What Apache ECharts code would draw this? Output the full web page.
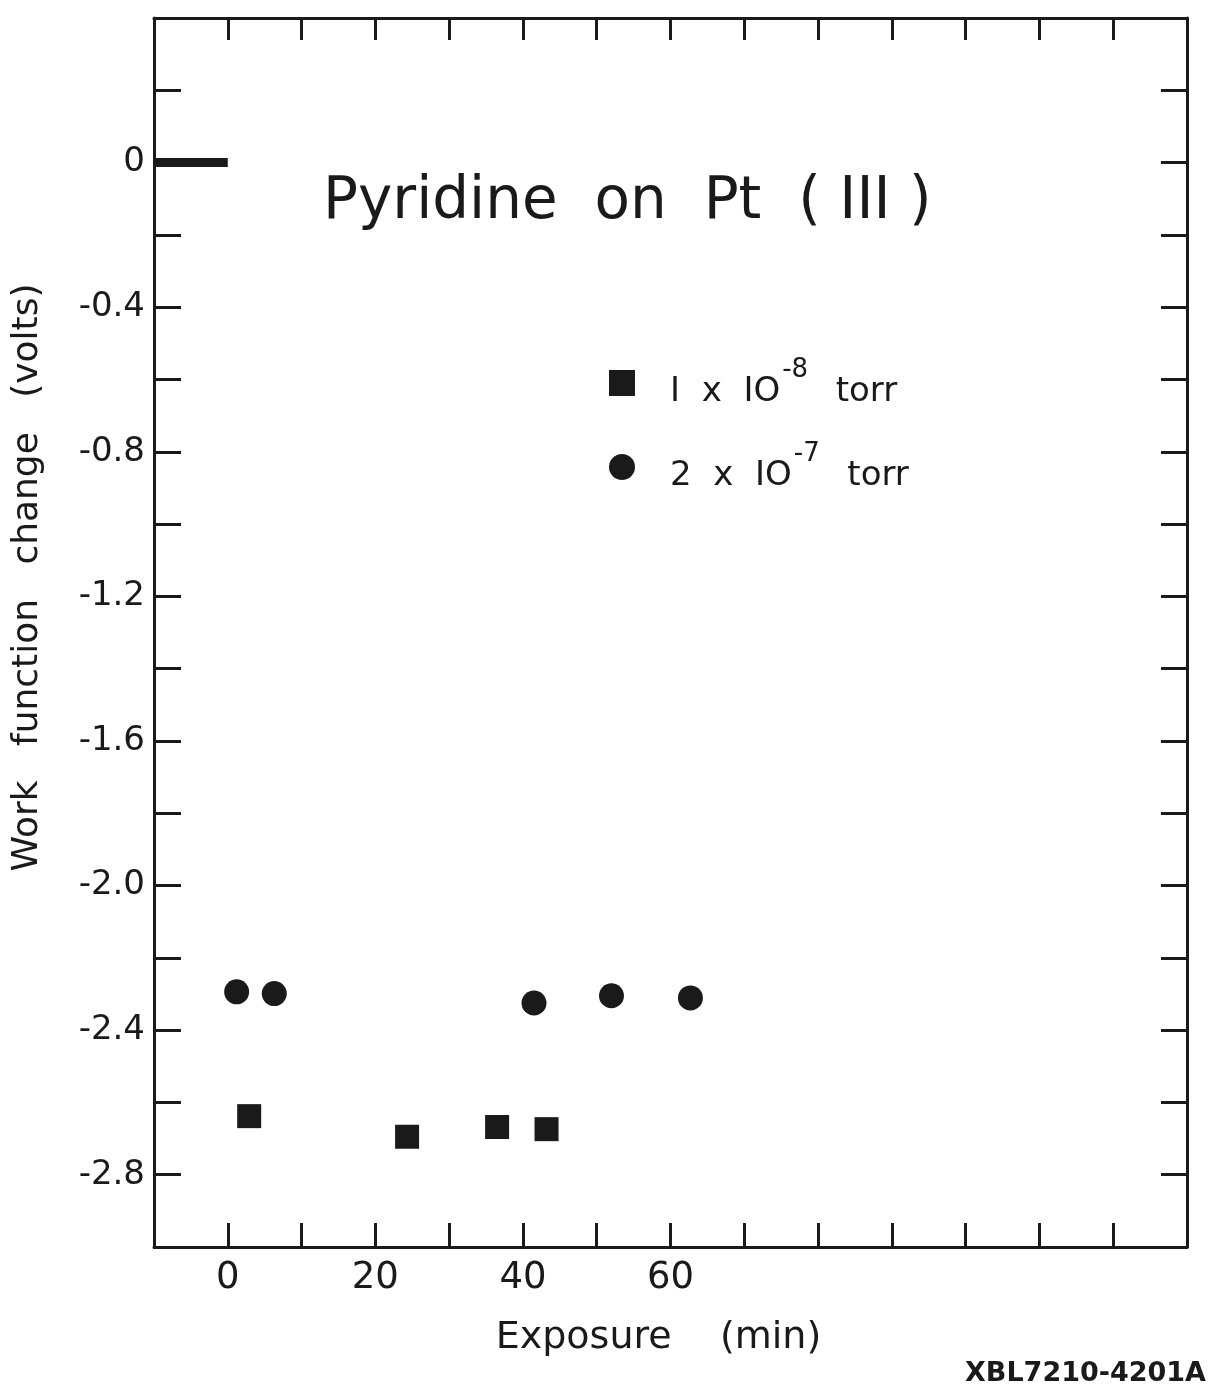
<!DOCTYPE html>
<html>
<head>
    <meta charset="utf-8">
    <script src="https://cdn.jsdelivr.net/npm/echarts@6/dist/echarts.min.js"></script>
    <style>
        html, body, #chart {
            width: 100%;
            height: 100%;
            margin: 0px;
            background: #fff;
        }
    </style>
</head>
<body>
    <div id="chart"></div>
    <script>
        // exposure (min) and work function change (volts)
        var lowX = [2.9, 24.3, 36.5, 43.2];
        var lowY = [-2.638, -2.695, -2.668, -2.674];
        var highX = [1.2, 6.3, 41.5, 52.0, 62.7];
        var highY = [-2.294, -2.299, -2.325, -2.305, -2.311];
        // clean surface reference bar
        var zeroX = [-10, 0];
        var zeroY = [0, 0];
        var xLabels = [0, 20, 40, 60];
        var yLabels = [0, -0.4, -0.8, -1.2, -1.6, -2.0, -2.4, -2.8];
        var names = ['low', 'high'];

        var ink = '#1a1a1a';
        var font = 'DejaVu Sans';

        function pairs(xs, ys) {
            return xs.map(function (x, i) { return [x, ys[i]]; });
        }

        var myChart = echarts.init(document.getElementById('chart'));
        var axisLine = { show: true, onZero: false, lineStyle: { color: ink, width: 3 } };

        var option = {
            backgroundColor: '#fff',
            animation: false,
            title: [{
                text: 'Pyridine  on  Pt  ( III )',
                left: 318,
                top: 169,
                textStyle: { fontFamily: font, fontSize: 58, fontWeight: 'normal', color: ink }
            }, {
                text: 'XBL7210-4201A',
                right: 8,
                top: 1355,
                textStyle: { fontFamily: font, fontSize: 27, fontWeight: 'bold', color: ink }
            }],
            legend: {
                orient: 'vertical',
                left: 604,
                top: 352,
                itemWidth: 26,
                itemHeight: 26,
                itemGap: 32,
                data: [{ name: 'low', icon: 'rect' }, { name: 'high', icon: 'circle' }],
                formatter: function (name) {
                    if (name === 'low') {
                        return '{p|I  x  IO}{s|-8}{a|  torr}';
                    }
                    return '{p|2  x  IO}{s|-7}{a|  torr}';
                },
                textStyle: {
                    color: ink,
                    rich: {
                        p: { fontFamily: font, fontSize: 34, lineHeight: 52, verticalAlign: 'bottom', color: ink, padding: [0, 0, 0, 30] },
                        a: { fontFamily: font, fontSize: 34, lineHeight: 52, verticalAlign: 'bottom', color: ink, padding: [0, 0, 0, 6] },
                        s: { fontFamily: font, fontSize: 26, lineHeight: 26, verticalAlign: 'top', color: ink, padding: [0, 0, 0, 2] }
                    }
                }
            },
            grid: { left: 154, right: 32, top: 18, bottom: 139 },
            xAxis: [{
                type: 'value',
                min: -10,
                max: 130,
                interval: 10,
                position: 'bottom',
                name: 'Exposure    (min)',
                nameLocation: 'middle',
                nameGap: 72,
                nameTextStyle: { fontFamily: font, fontSize: 38, color: ink, padding: [0, 24, 0, 0] },
                axisLine: axisLine,
                axisTick: { inside: true, length: 24, lineStyle: { color: ink, width: 3 } },
                axisLabel: {
                    margin: 13,
                    fontFamily: font,
                    fontSize: 37,
                    color: ink,
                    formatter: function (v) { return xLabels.indexOf(v) >= 0 ? String(v) : ''; }
                },
                splitLine: { show: false }
            }, {
                type: 'value',
                min: -10,
                max: 130,
                interval: 10,
                position: 'top',
                axisLine: axisLine,
                axisTick: { inside: true, length: 22, lineStyle: { color: ink, width: 3 } },
                axisLabel: { show: false },
                splitLine: { show: false }
            }],
            yAxis: [{
                type: 'value',
                min: -3,
                max: 0.4,
                interval: 0.2,
                position: 'left',
                name: 'Work   function   change   (volts)',
                nameLocation: 'middle',
                nameGap: 108,
                nameTextStyle: { fontFamily: font, fontSize: 36, color: ink, padding: [0, 0, 0, 110] },
                axisLine: axisLine,
                axisTick: { inside: true, length: 27, lineStyle: { color: ink, width: 3 } },
                axisLabel: {
                    margin: 9,
                    fontFamily: font,
                    fontSize: 34,
                    color: ink,
                    formatter: function (v) {
                        var r = Math.round(v * 10) / 10;
                        for (var i = 0; i < yLabels.length; i++) {
                            if (Math.abs(yLabels[i] - r) < 1e-6) {
                                return r === 0 ? '0' : r.toFixed(1);
                            }
                        }
                        return '';
                    }
                },
                splitLine: { show: false }
            }, {
                type: 'value',
                min: -3,
                max: 0.4,
                interval: 0.2,
                position: 'right',
                axisLine: axisLine,
                axisTick: { inside: true, length: 26, lineStyle: { color: ink, width: 3 } },
                axisLabel: { show: false },
                splitLine: { show: false }
            }],
            series: [{
                name: names[0],
                type: 'scatter',
                symbol: 'rect',
                symbolSize: 24,
                itemStyle: { color: ink, opacity: 1 },
                data: pairs(lowX, lowY)
            }, {
                name: names[1],
                type: 'scatter',
                symbol: 'circle',
                symbolSize: 25,
                itemStyle: { color: ink, opacity: 1 },
                data: pairs(highX, highY)
            }, {
                name: 'zero',
                type: 'line',
                symbol: 'none',
                lineStyle: { color: ink, width: 9 },
                data: pairs(zeroX, zeroY)
            }]
        };
        option && myChart.setOption(option);
    </script>
</body>
</html>
